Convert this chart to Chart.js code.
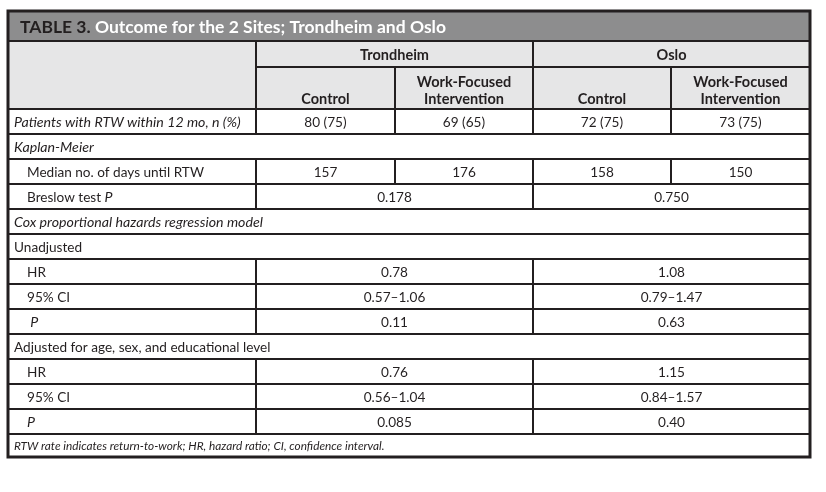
<!DOCTYPE html>
<html>
<head>
<meta charset="utf-8">
<script src="https://cdn.jsdelivr.net/npm/chart.js@4/dist/chart.umd.min.js"></script>
<style>
  html, body { margin: 0; padding: 0; background: #ffffff; }
  #wrap { width: 826px; height: 492px; position: relative; }
</style>
</head>
<body>
<div id="wrap"><canvas id="c"></canvas></div>
<script>
// ---- data ----
const tableTitleLead = "TABLE 3.";
const tableTitle = "Outcome for the 2 Sites; Trondheim and Oslo";
const sites = ["Trondheim", "Oslo"];
const groups = [["Control"], ["Work-Focused", "Intervention"]];
const rtwLabel = "Patients with RTW within 12 mo, n (%)";
const rtwValues = ["80 (75)", "69 (65)", "72 (75)", "73 (75)"];
const medianDays = ["157", "176", "158", "150"];
const breslowP = ["0.178", "0.750"];
const unadjustedHR = ["0.78", "1.08"];
const unadjustedCI = ["0.57\u20131.06", "0.79\u20131.47"];
const unadjustedP = ["0.11", "0.63"];
const adjustedHR = ["0.76", "1.15"];
const adjustedCI = ["0.56\u20131.04", "0.84\u20131.57"];
const adjustedP = ["0.085", "0.40"];
const footnote = "RTW rate indicates return-to-work; HR, hazard ratio; CI, confidence interval.";

// ---- body rows built from the arrays ----
const bodyRows = [
  { kind: "cols4", label: rtwLabel, italic: true, indent: 0, values: rtwValues },
  { kind: "full", label: "Kaplan-Meier", italic: true, indent: 0 },
  { kind: "cols4", label: "Median no. of days until RTW", indent: 1, values: medianDays },
  { kind: "cols2", label: "Breslow test ", labelItalicTail: "P", indent: 1, values: breslowP },
  { kind: "full", label: "Cox proportional hazards regression model", italic: true, indent: 0 },
  { kind: "full", label: "Unadjusted", indent: 0 },
  { kind: "cols2", label: "HR", indent: 1, values: unadjustedHR },
  { kind: "cols2", label: "95% CI", indent: 1, values: unadjustedCI },
  { kind: "cols2", label: "P", italic: true, indent: 1.25, values: unadjustedP },
  { kind: "full", label: "Adjusted for age, sex, and educational level", indent: 0 },
  { kind: "cols2", label: "HR", indent: 1, values: adjustedHR },
  { kind: "cols2", label: "95% CI", indent: 1, values: adjustedCI },
  { kind: "cols2", label: "P", italic: true, indent: 1, values: adjustedP }
];

// ---- layout (positions in page units on the hidden linear scales) ----
const colEdges = [8, 256, 395, 533, 671, 810];
const titleEdges = [11, 41];
const headEdges = [41, 67, 109];
const bodyTop = 109;
const rowH = 25;
const footH = 23;

const INK = "#231f20";
const FONT = "Lato, 'Open Sans', sans-serif";

const tablePlugin = {
  id: "tablePlugin",
  afterDraw(chart) {
    const ctx = chart.ctx;
    const X = v => chart.scales.x.getPixelForValue(v);
    const Y = v => chart.scales.y.getPixelForValue(v);
    const L = colEdges[0], R = colEdges[colEdges.length - 1];
    const bodyEdges = [bodyTop];
    bodyRows.forEach((r, i) => bodyEdges.push(bodyTop + (i + 1) * rowH));
    const footTop = bodyEdges[bodyEdges.length - 1];
    const bottom = footTop + footH;

    ctx.save();
    // backgrounds
    ctx.fillStyle = "#8d8d8e";
    ctx.fillRect(X(L), Y(titleEdges[0]), X(R) - X(L), Y(titleEdges[1]) - Y(titleEdges[0]));
    ctx.fillStyle = "#e6e6e7";
    ctx.fillRect(X(L), Y(headEdges[0]), X(R) - X(L), Y(headEdges[2]) - Y(headEdges[0]));

    // lines
    ctx.strokeStyle = INK;
    ctx.lineCap = "square";
    const hline = (y, x0, x1, w) => { ctx.lineWidth = w; ctx.beginPath(); ctx.moveTo(X(x0), Y(y)); ctx.lineTo(X(x1), Y(y)); ctx.stroke(); };
    const vline = (x, y0, y1, w) => { ctx.lineWidth = w; ctx.beginPath(); ctx.moveTo(X(x), Y(y0)); ctx.lineTo(X(x), Y(y1)); ctx.stroke(); };

    hline(titleEdges[1], L, R, 2);
    hline(headEdges[1], colEdges[1], R, 2);
    hline(headEdges[2], L, R, 2);
    vline(colEdges[1], headEdges[0], headEdges[2], 2);
    vline(colEdges[3], headEdges[0], headEdges[2], 2);
    vline(colEdges[2], headEdges[1], headEdges[2], 2);
    vline(colEdges[4], headEdges[1], headEdges[2], 2);

    bodyRows.forEach((r, i) => {
      const y0 = bodyEdges[i], y1 = bodyEdges[i + 1];
      hline(y1, L, R, 2);
      if (r.kind === "cols4") { [1, 2, 3, 4].forEach(c => vline(colEdges[c], y0, y1, 2)); }
      if (r.kind === "cols2") { [1, 3].forEach(c => vline(colEdges[c], y0, y1, 2)); }
    });
    // outer frame
    ctx.lineWidth = 3;
    ctx.strokeRect(X(L), Y(titleEdges[0]), X(R) - X(L), Y(bottom) - Y(titleEdges[0]));

    // text
    ctx.fillStyle = INK;
    ctx.textBaseline = "middle";
    // title
    ctx.font = "bold 17.5px " + FONT;
    ctx.textAlign = "left";
    const ty = Y((titleEdges[0] + titleEdges[1]) / 2) + 1;
    ctx.fillStyle = INK;
    ctx.fillText(tableTitleLead, X(L) + 12, ty);
    const w1 = ctx.measureText(tableTitleLead + " ").width;
    ctx.fillStyle = "#ffffff";
    ctx.fillText(tableTitle, X(L) + 12 + w1, ty);

    // header
    ctx.fillStyle = INK;
    ctx.font = "bold 14.5px " + FONT;
    ctx.textAlign = "center";
    sites.forEach((s, i) => {
      const cx = (X(colEdges[1 + 2 * i]) + X(colEdges[3 + 2 * i])) / 2;
      ctx.fillText(s, cx, Y((headEdges[0] + headEdges[1]) / 2) + 1);
    });
    for (let c = 0; c < 4; c++) {
      const g = groups[c % 2];
      const cx = (X(colEdges[1 + c]) + X(colEdges[2 + c])) / 2;
      const lastY = Y(headEdges[2]) - 10;
      g.forEach((line, k) => {
        ctx.fillText(line, cx, lastY - (g.length - 1 - k) * 16.5);
      });
    }

    // body
    bodyRows.forEach((r, i) => {
      const cy = Y((bodyEdges[i] + bodyEdges[i + 1]) / 2) + 1;
      const lx = X(L) + 6 + r.indent * 13;
      ctx.textAlign = "left";
      ctx.font = (r.italic ? "italic 14.2px " : "13.6px ") + FONT;
      ctx.fillText(r.label, lx, cy);
      if (r.labelItalicTail) {
        const w = ctx.measureText(r.label).width;
        ctx.font = "italic 14.2px " + FONT;
        ctx.fillText(r.labelItalicTail, lx + w, cy);
      }
      ctx.font = "13.6px " + FONT;
      ctx.textAlign = "center";
      if (r.kind === "cols4") {
        r.values.forEach((v, k) => ctx.fillText(v, (X(colEdges[1 + k]) + X(colEdges[2 + k])) / 2, cy));
      } else if (r.kind === "cols2") {
        r.values.forEach((v, k) => ctx.fillText(v, (X(colEdges[1 + 2 * k]) + X(colEdges[3 + 2 * k])) / 2, cy));
      }
    });

    // footnote
    ctx.textAlign = "left";
    ctx.font = "italic 11.8px " + FONT;
    ctx.fillText(footnote, X(L) + 6, Y((footTop + bottom) / 2) + 1);
    ctx.restore();
  }
};

new Chart(document.getElementById("c"), {
  type: "scatter",
  data: { datasets: [{ data: [], pointRadius: 0 }] },
  options: {
    responsive: true,
    maintainAspectRatio: false,
    animation: false,
    layout: { padding: 0 },
    plugins: { legend: { display: false }, tooltip: { enabled: false }, title: { display: false } },
    scales: {
      x: { type: "linear", min: 0, max: 826, display: false },
      y: { type: "linear", min: 0, max: 492, reverse: true, display: false }
    }
  },
  plugins: [tablePlugin]
});
</script>
</body>
</html>
